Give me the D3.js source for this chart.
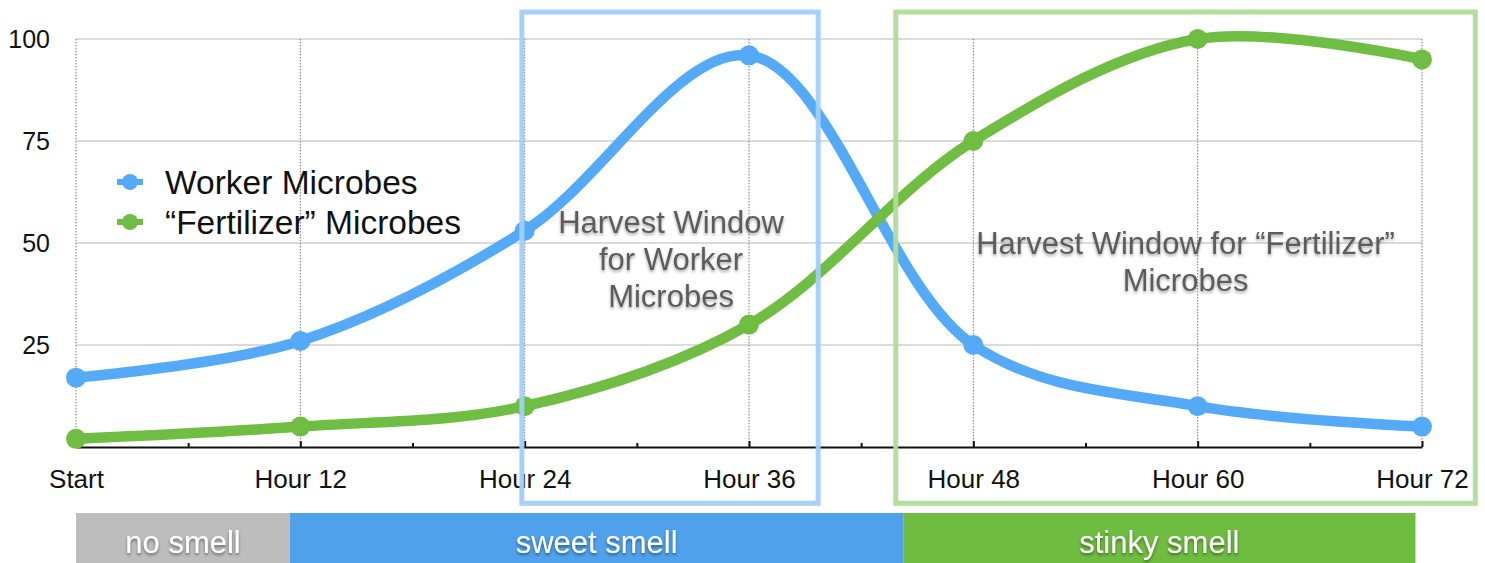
<!DOCTYPE html>
<html>
<head>
<meta charset="utf-8">
<script src="https://cdn.jsdelivr.net/npm/d3@7"></script>
<style>
    html, body { margin: 0; padding: 0; background: #fff; }
    svg { display: block; font-family: Arial, 'Liberation Sans', Helvetica, sans-serif; }
    .axis .domain { stroke: #111; stroke-width: 2; }
    .axis line { stroke: #111; stroke-width: 2; }
</style>
</head>
<body>
<div class="chart-container"></div>
<script>
// chart data
const hours = [0, 12, 24, 36, 48, 60, 72];
const hourLabels = ['Start', 'Hour 12', 'Hour 24', 'Hour 36', 'Hour 48', 'Hour 60', 'Hour 72'];
const minorHours = [6, 18, 30, 42, 54, 66];
const workerMicrobes = [17, 26, 53, 96, 25, 10, 5];
const fertilizerMicrobes = [2, 5, 10, 30, 75, 100, 95];
const yTicks = [25, 50, 75, 100];
const seriesNames = ['Worker Microbes', '\u201cFertilizer\u201d Microbes'];

// harvest windows (hours / values)
const windowNames = ['worker', 'fertilizer'];
const windowFrom = [23.85, 43.85];
const windowTo = [39.7, 74.85];
const windowTop = [106.6, 106.6];
const windowBottom = [-13.8, -13.8];
const windowLabels = [
    ['Harvest Window', 'for Worker', 'Microbes'],
    ['Harvest Window for \u201cFertilizer\u201d', 'Microbes']
];

// smell bands (hours)
const smellLabels = ['no smell', 'sweet smell', 'stinky smell'];
const smellFrom = [0, 11.45, 44.25];
const smellTo = [11.45, 44.25, 71.65];

// colors
const blue = '#55aaf7';
const green = '#6fbe43';
const windowColors = ['#a2cffa', '#b0dc98'];
const smellColors = ['#bdbdbd', '#4fa1ec', '#6fbd40'];

function ready() {
    const width = 1485;
    const height = 563;

    const xScale = d3.scaleLinear().domain([0, 72]).range([76, 1422]);
    const yScale = d3.scaleLinear().domain([0, 100]).range([447, 39]);

    const svg = d3.select('.chart-container')
        .append('svg')
        .attr('width', width)
        .attr('height', height);

    // shadow filters for the annotation texts
    const defs = svg.append('defs');
    defs.append('filter')
        .attr('id', 'grey-shadow')
        .attr('x', '-10%').attr('y', '-30%').attr('width', '120%').attr('height', '160%')
        .append('feDropShadow')
        .attr('dx', 0).attr('dy', 2).attr('stdDeviation', 1.8)
        .attr('flood-color', '#000').attr('flood-opacity', 0.35);
    defs.append('filter')
        .attr('id', 'white-shadow')
        .attr('x', '-10%').attr('y', '-30%').attr('width', '120%').attr('height', '160%')
        .append('feDropShadow')
        .attr('dx', 0).attr('dy', 2).attr('stdDeviation', 1.5)
        .attr('flood-color', '#000').attr('flood-opacity', 0.45);

    // horizontal grid
    svg.append('g')
        .selectAll('line')
        .data(yTicks)
        .join('line')
        .attr('x1', xScale(0))
        .attr('x2', xScale(72))
        .attr('y1', d => yScale(d))
        .attr('y2', d => yScale(d))
        .attr('stroke', '#cfcfcf')
        .attr('stroke-width', 1.5);

    // dotted verticals
    svg.append('g')
        .selectAll('line')
        .data(hours)
        .join('line')
        .attr('x1', d => xScale(d))
        .attr('x2', d => xScale(d))
        .attr('y1', yScale(100))
        .attr('y2', yScale(0))
        .attr('stroke', '#777')
        .attr('stroke-width', 1)
        .attr('stroke-dasharray', '1.5,1.5');

    // y axis labels
    const yAxis = d3.axisLeft(yScale).tickValues(yTicks).tickSize(0).tickPadding(26);
    const yAxisDraw = svg.append('g')
        .attr('transform', `translate(${xScale(0)}, 0)`)
        .call(yAxis);
    yAxisDraw.select('.domain').remove();
    yAxisDraw.selectAll('text')
        .attr('font-size', 25)
        .attr('font-family', null)
        .attr('fill', '#111');

    // x axis with upward ticks
    const xAxis = d3.axisBottom(xScale)
        .tickValues(hours)
        .tickFormat((d, i) => hourLabels[i])
        .tickSizeInner(-6)
        .tickSizeOuter(0)
        .tickPadding(23);
    const xAxisDraw = svg.append('g')
        .attr('class', 'axis')
        .attr('transform', `translate(0, ${yScale(0)})`)
        .call(xAxis);
    xAxisDraw.selectAll('text')
        .attr('font-size', 26)
        .attr('font-family', null)
        .attr('fill', '#111');

    const minorAxis = d3.axisBottom(xScale)
        .tickValues(minorHours)
        .tickFormat('')
        .tickSizeInner(-4)
        .tickSizeOuter(0);
    const minorDraw = svg.append('g')
        .attr('class', 'axis')
        .attr('transform', `translate(0, ${yScale(0)})`)
        .call(minorAxis);
    minorDraw.select('.domain').remove();

    // lines + points
    const line = d3.line()
        .x((d, i) => xScale(hours[i]))
        .y(d => yScale(d))
        .curve(d3.curveCatmullRom.alpha(0.5));

    const series = [
        { values: workerMicrobes, color: blue },
        { values: fertilizerMicrobes, color: green }
    ];

    series.forEach(s => {
        svg.append('path')
            .datum(s.values)
            .attr('d', line)
            .attr('fill', 'none')
            .attr('stroke', s.color)
            .attr('stroke-width', 10.5)
            .attr('stroke-linecap', 'round');

        svg.append('g')
            .selectAll('circle')
            .data(s.values)
            .join('circle')
            .attr('cx', (d, i) => xScale(hours[i]))
            .attr('cy', d => yScale(d))
            .attr('r', 10)
            .attr('fill', s.color);
    });

    // harvest windows
    svg.append('g')
        .selectAll('rect')
        .data(windowNames)
        .join('rect')
        .attr('x', (d, i) => xScale(windowFrom[i]))
        .attr('y', (d, i) => yScale(windowTop[i]))
        .attr('width', (d, i) => xScale(windowTo[i]) - xScale(windowFrom[i]))
        .attr('height', (d, i) => yScale(windowBottom[i]) - yScale(windowTop[i]))
        .attr('fill', 'none')
        .attr('stroke', (d, i) => windowColors[i])
        .attr('stroke-width', 5)
        .attr('opacity', 0.95);

    // harvest window texts
    const windowTextY = [55.1, 50];
    windowLabels.forEach((lines, i) => {
        const text = svg.append('text')
            .attr('x', (xScale(windowFrom[i]) + xScale(windowTo[i])) / 2 + (i === 1 ? 0 : 1))
            .attr('y', yScale(windowTextY[i]))
            .attr('text-anchor', 'middle')
            .attr('font-size', 31)
            .attr('fill', '#5c5c5c')
            .attr('filter', 'url(#grey-shadow)');
        lines.forEach((l, j) => {
            text.append('tspan')
                .attr('x', text.attr('x'))
                .attr('dy', j === 0 ? '0.35em' : 37)
                .text(l);
        });
    });

    // legend
    const legend = svg.append('g')
        .attr('transform', 'translate(130, 182)');
    const legendItems = legend.selectAll('g')
        .data(seriesNames)
        .join('g')
        .attr('transform', (d, i) => `translate(0, ${i * 40})`);
    legendItems.append('line')
        .attr('x1', -13).attr('x2', 13)
        .attr('stroke', (d, i) => series[i].color)
        .attr('stroke-width', 6);
    legendItems.append('circle')
        .attr('r', 8)
        .attr('fill', (d, i) => series[i].color);
    legendItems.append('text')
        .attr('x', 35)
        .attr('dy', '0.35em')
        .attr('font-size', 33.5)
        .attr('fill', '#111')
        .text(d => d);

    // smell bands
    const bands = svg.append('g')
        .selectAll('g')
        .data(smellLabels)
        .join('g');
    bands.append('rect')
        .attr('x', (d, i) => xScale(smellFrom[i]))
        .attr('y', 513)
        .attr('width', (d, i) => xScale(smellTo[i]) - xScale(smellFrom[i]))
        .attr('height', 50)
        .attr('fill', (d, i) => smellColors[i]);
    bands.append('text')
        .attr('x', (d, i) => (xScale(smellFrom[i]) + xScale(smellTo[i])) / 2)
        .attr('y', 542)
        .attr('dy', '0.35em')
        .attr('text-anchor', 'middle')
        .attr('font-size', 31)
        .attr('fill', '#fff')
        .attr('filter', 'url(#white-shadow)')
        .text(d => d);
}

ready();
</script>
</body>
</html>
